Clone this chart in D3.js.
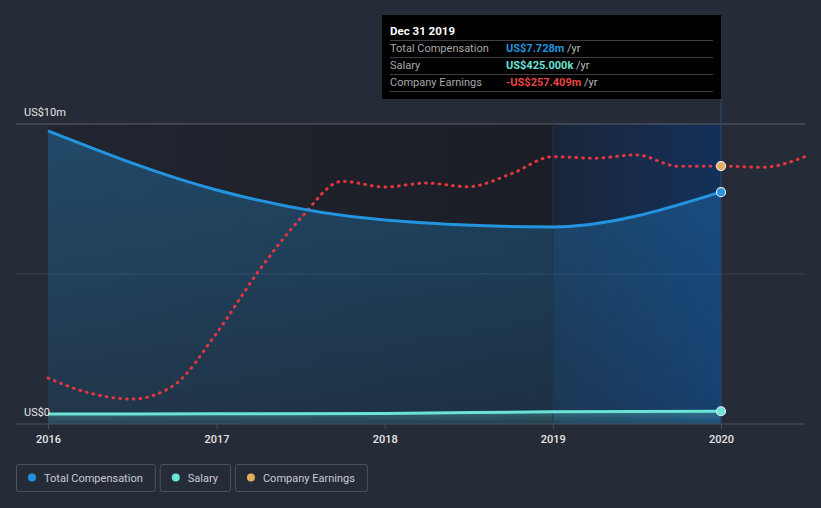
<!DOCTYPE html>
<html>
<head>
<meta charset="utf-8">
<script src="https://cdn.jsdelivr.net/npm/d3@7"></script>
<style>
  body { margin: 0; background: #262b38; font-family: Roboto, "Noto Sans", sans-serif; }
  svg { display: block; }
</style>
</head>
<body>
<div id="chart"></div>
<script>
// data (US$m)
const compDates = ["2016-01-01", "2017-01-01", "2018-01-01", "2019-01-01", "2019-12-31"];
const totalComp = [9.77, 7.8, 6.8, 6.57, 7.728];
const salary = [0.33, 0.34, 0.35, 0.41, 0.425];

const earnDates = ["2016-01-01", "2016-04-01", "2016-07-01", "2016-10-01",
                   "2017-01-01", "2017-04-01", "2017-07-01", "2017-10-01",
                   "2018-01-01", "2018-04-01", "2018-07-01", "2018-10-01",
                   "2019-01-01", "2019-04-01", "2019-07-01", "2019-10-01",
                   "2019-12-31", "2020-04-01", "2020-07-01"];
const earnings = [-964, -1014, -1034, -987, -814, -610, -434, -308,
                  -327, -314, -326, -284, -226, -231, -220, -258,
                  -257.409, -261, -226];

const yTicks = [0, 10];
const yTickLabels = ["US$0", "US$10m"];
const xTicks = ["2016", "2017", "2018", "2019", "2020"];

const legendItems = [
  { name: "Total Compensation", color: "#2394df" },
  { name: "Salary", color: "#6be3d5" },
  { name: "Company Earnings", color: "#e8ad5c" }
];

const W = 821, H = 508;
const parse = d3.timeParse("%Y-%m-%d");

const svg = d3.select("#chart").append("svg")
  .attr("width", W).attr("height", H);

// scales
const x = d3.scaleTime()
  .domain([new Date(2016, 0, 1), new Date(2020, 0, 1)])
  .range([48, 721]);
const y = d3.scaleLinear().domain([0, 10]).range([424, 124]);
// earnings drawn on its own hidden scale
const yE = d3.scaleLinear().domain([-1117, -117]).range([424, 124]);

const comp = compDates.map((d, i) => ({ date: parse(d), v: totalComp[i] }));
const sal = compDates.map((d, i) => ({ date: parse(d), v: salary[i] }));
const earn = earnDates.map((d, i) => ({ date: parse(d), v: earnings[i] }));

const defs = svg.append("defs");
function hGrad(id, stops) {
  const g = defs.append("linearGradient").attr("id", id)
    .attr("x1", 0).attr("x2", 1).attr("y1", 0).attr("y2", 0);
  stops.forEach(s => g.append("stop").attr("offset", s[0]).attr("stop-color", s[1]).attr("stop-opacity", s[2]));
}
function vGrad(id, stops) {
  const g = defs.append("linearGradient").attr("id", id)
    .attr("x1", 0).attr("x2", 0).attr("y1", 0).attr("y2", 1);
  stops.forEach(s => g.append("stop").attr("offset", s[0]).attr("stop-color", s[1]).attr("stop-opacity", s[2]));
}
hGrad("plotBg", [[0, "#21252f", 1], [1, "#1b1e26", 1]]);
hGrad("hiBg", [[0, "#1a2539", 1], [1, "#14305a", 1]]);
vGrad("compFill", [[0, "#2394df", 0.33], [1, "#2394df", 0.15]]);
vGrad("salFill", [[0, "#6be3d5", 0.3], [1, "#6be3d5", 0.08]]);

const x2019 = x(new Date(2019, 0, 1)), x2020 = x(new Date(2020, 0, 1));

// plot backgrounds
svg.append("rect")
  .attr("x", 48).attr("y", 124)
  .attr("width", x2019 - 48).attr("height", 300)
  .attr("fill", "url(#plotBg)");
svg.append("rect")
  .attr("x", x2019).attr("y", 124)
  .attr("width", x2020 - x2019).attr("height", 300)
  .attr("fill", "url(#hiBg)");

// gridlines
svg.append("line")
  .attr("x1", 16).attr("x2", 805).attr("y1", y(10)).attr("y2", y(10))
  .attr("stroke", "#5a5f6a").attr("stroke-width", 1);
svg.append("line")
  .attr("x1", 16).attr("x2", 805).attr("y1", y(5)).attr("y2", y(5))
  .attr("stroke", "#ffffff").attr("stroke-opacity", 0.1).attr("stroke-width", 1);

// areas
const areaComp = d3.area().x(d => x(d.date)).y0(y(0)).y1(d => y(d.v)).curve(d3.curveMonotoneX);
const areaSal = d3.area().x(d => x(d.date)).y0(y(0)).y1(d => y(d.v)).curve(d3.curveMonotoneX);
svg.append("path").datum(comp).attr("d", areaComp).attr("fill", "url(#compFill)");
svg.append("path").datum(sal).attr("d", areaSal).attr("fill", "url(#salFill)");

// vertical markers
svg.append("line")
  .attr("x1", x2019).attr("x2", x2019).attr("y1", 124).attr("y2", 424)
  .attr("stroke", "#24324a").attr("stroke-width", 1);
svg.append("line")
  .attr("x1", x2020).attr("x2", x2020).attr("y1", 99).attr("y2", 424)
  .attr("stroke", "#2c4a6e").attr("stroke-width", 1);

// lines
const line = d3.line().x(d => x(d.date)).y(d => y(d.v)).curve(d3.curveMonotoneX);
const lineE = d3.line().x(d => x(d.date)).y(d => yE(d.v)).curve(d3.curveMonotoneX);

svg.append("path").datum(earn).attr("d", lineE)
  .attr("fill", "none").attr("stroke", "#e5353f").attr("stroke-width", 3)
  .attr("stroke-linecap", "round").attr("stroke-dasharray", "0.8 6");
svg.append("path").datum(comp).attr("d", line)
  .attr("fill", "none").attr("stroke", "#2394df").attr("stroke-width", 3);
svg.append("path").datum(sal).attr("d", line)
  .attr("fill", "none").attr("stroke", "#6be3d5").attr("stroke-width", 3);

// x axis
const xAxis = svg.append("g")
  .attr("transform", `translate(0,${y(0)})`)
  .call(d3.axisBottom(x).tickValues(xTicks.map(t => new Date(+t, 0, 1)))
    .tickFormat(d3.timeFormat("%Y")).tickSize(5).tickPadding(6));
xAxis.select(".domain").remove();
xAxis.selectAll(".tick line").attr("stroke", "#4c515c");
xAxis.selectAll(".tick text")
  .attr("fill", "#e6e6e6").attr("font-size", 11).attr("font-weight", 500)
  .attr("font-family", "Roboto, sans-serif");
svg.append("line")
  .attr("x1", 16).attr("x2", 805).attr("y1", y(0)).attr("y2", y(0))
  .attr("stroke", "#4c515c").attr("stroke-width", 1);

// y labels
svg.selectAll(".ylab").data(yTicks).enter().append("text")
  .attr("class", "ylab")
  .attr("x", 24)
  .attr("y", d => y(d) - 8)
  .attr("fill", "#e6e6e6").attr("font-size", 11)
  .text((d, i) => yTickLabels[i]);

// end points
const last = [
  { cy: y(totalComp[4]), c: "#2394df" },
  { cy: y(salary[4]), c: "#6be3d5" },
  { cy: yE(earnings[16]), c: "#e8ad5c" }
];
svg.selectAll(".pt").data(last).enter().append("circle")
  .attr("cx", x2020).attr("cy", d => d.cy).attr("r", 4.5)
  .attr("fill", d => d.c).attr("stroke", "#e6e9ee").attr("stroke-width", 1.2);

// tooltip
const tip = svg.append("g");
tip.append("rect").attr("x", 382).attr("y", 15).attr("width", 339).attr("height", 84).attr("fill", "#000");
tip.append("text").attr("x", 390).attr("y", 35)
  .attr("fill", "#fff").attr("font-size", 11.5).attr("font-weight", 700).text("Dec 31 2019");
const rows = [
  { label: "Total Compensation", value: "US$7.728m", color: "#2394df" },
  { label: "Salary", value: "US$425.000k", color: "#6be3d5" },
  { label: "Company Earnings", value: "-US$257.409m", color: "#e84545" }
];
[40.5, 57.5, 74.5, 91.5].forEach(ly => {
  tip.append("line").attr("x1", 390).attr("x2", 713).attr("y1", ly).attr("y2", ly)
    .attr("stroke", "#3f3f3f").attr("stroke-width", 1);
});
rows.forEach((r, i) => {
  const by = 52 + i * 17;
  tip.append("text").attr("x", 390).attr("y", by)
    .attr("fill", "#a8a8a8").attr("font-size", 11).text(r.label);
  const t = tip.append("text").attr("x", 506).attr("y", by).attr("font-size", 11);
  t.append("tspan").attr("fill", r.color).attr("font-weight", 700).text(r.value);
  t.append("tspan").attr("fill", "#bdbdbd").text(" /yr");
});

// legend
let lx = 16;
legendItems.forEach(item => {
  const g = svg.append("g");
  const rect = g.append("rect").attr("x", lx + 0.5).attr("y", 464.5).attr("height", 27)
    .attr("rx", 2).attr("fill", "none").attr("stroke", "#4d525e");
  g.append("circle").attr("cx", lx + 16).attr("cy", 477.5).attr("r", 4).attr("fill", item.color);
  const t = g.append("text").attr("x", lx + 28).attr("y", 481.5)
    .attr("fill", "#c9ccd2").attr("font-size", 11).text(item.name);
  const w = t.node().getComputedTextLength() + 40;
  rect.attr("width", w);
  lx += w + 5;
});
</script>
</body>
</html>
